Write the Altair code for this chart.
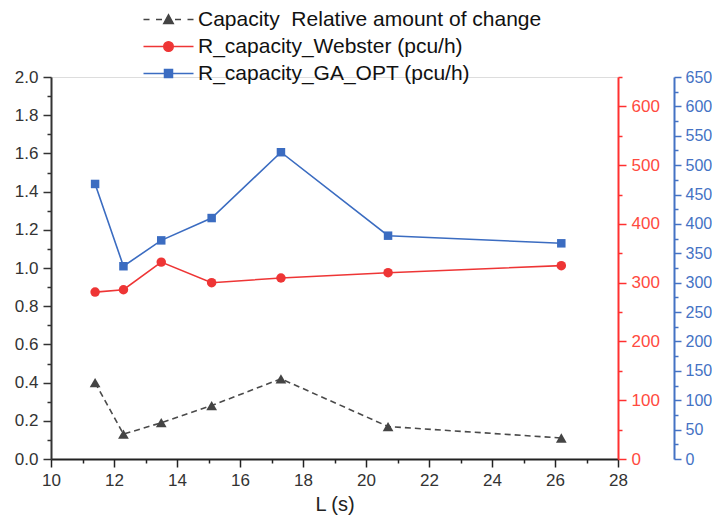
import altair as alt
import pandas as pd

# ---- data ----
L = [11.4, 12.3, 13.5, 15.1, 17.3, 20.7, 26.2]
change = [0.40, 0.13, 0.19, 0.28, 0.42, 0.17, 0.11]
webster = [284, 288, 335, 300, 308, 317, 329]
ga_opt = [468, 328, 372, 410, 522, 380, 367]

names = ["Capacity\u00a0 Relative amount of change",
         "R_capacity_Webster (pcu/h)",
         "R_capacity_GA_OPT (pcu/h)"]
colors = ["#444444", "#ee3535", "#3b6cc1"]

x_ticks = list(range(10, 29))
left_ticks = [round(i * 0.1, 1) for i in range(21)]
red_ticks = list(range(0, 651, 50))
blue_ticks = list(range(0, 651, 25))

df = pd.DataFrame({"L": L, "change": change, "webster": webster, "ga": ga_opt})

FONT = "Liberation Sans"


def make_axis(values, test, fmt, color, lcolor, orient, offset=0, title=None,
              fsize=17, major=8, pad=5):
    kw = dict(
        values=values, orient=orient, offset=offset,
        labelExpr=f"({test}) ? format(datum.value, '{fmt}') : ''",
        tickSize={"condition": {"test": test, "value": major}, "value": 4},
        labelOverlap=False, labelFlush=False, grid=False,
        domainColor=color, domainWidth=2, tickColor=color, tickWidth=1.5,
        labelColor=lcolor, labelFontSize=fsize, labelFont=FONT, labelPadding=pad,
    )
    if title is not None:
        kw.update(title=title, titleFontSize=20, titleFont=FONT,
                  titleFontWeight="normal", titleColor="#222222", titlePadding=6)
    else:
        kw.update(title=None)
    return alt.Axis(**kw)


x_axis = make_axis(x_ticks, "datum.value % 2 == 0", "d", "#222222", "#333333",
                   "bottom", title="L (s)")
left_axis = make_axis(left_ticks, "round(datum.value * 10) % 2 == 0", ".1f",
                      "#333333", "#333333", "left")
red_axis = make_axis(red_ticks, "datum.value % 100 == 0", "d", "#ff3030",
                     "#ff4a40", "right")
blue_axis = make_axis(blue_ticks, "datum.value % 50 == 0", "d", "#4472c4",
                      "#4472c4", "right", offset=56, fsize=16, major=7, pad=4)

x_enc = alt.X("L:Q", scale=alt.Scale(domain=[10, 28], nice=False, zero=False),
              axis=x_axis)

tri = "M-5,0L-3.8,0M-2.5,0L-1.3,0M1.3,0L2.5,0M3.8,0L5,0M-0.95,0.8L0,-0.95L0.95,0.8Z"
circ = "M-5,0L5,0M0.95,0A0.95,0.95,0,1,1,-0.95,0A0.95,0.95,0,1,1,0.95,0Z"
sq = "M-5,0L5,0M-0.8,-0.8L0.8,-0.8L0.8,0.8L-0.8,0.8Z"


def pick(a, b, c):
    return (f"indexof(datum.label, 'Webster') >= 0 ? '{b}' : "
            f"(indexof(datum.label, 'GA_OPT') >= 0 ? '{c}' : '{a}')")


legend = alt.Legend(
    title=None, orient="none", legendX=107, legendY=-68, padding=0,
    symbolSize=100, symbolStrokeWidth=1.5,
    symbolType=alt.ExprRef(expr=pick(tri, circ, sq)),
    symbolStrokeColor=alt.ExprRef(expr=pick(*colors)),
    labelFont=FONT, labelFontSize=21, labelColor="#111111",
    labelOffset=19, rowPadding=5, labelLimit=600,
)
color_scale = alt.Scale(domain=names, range=colors)


def series(field, name, color, shape, size, yscale, yaxis, dash=None):
    y = alt.Y(f"{field}:Q", scale=yscale, axis=yaxis)
    line_kw = dict(color=color, strokeWidth=1.6)
    if dash:
        line_kw["strokeDash"] = dash
    line = alt.Chart(df).mark_line(**line_kw).encode(x=x_enc, y=y)
    pts = (alt.Chart(df)
           .transform_calculate(series=f"'{name}'")
           .mark_point(filled=True, shape=shape, size=size, opacity=1)
           .encode(x=x_enc, y=y,
                   color=alt.Color("series:N", scale=color_scale, legend=legend)))
    return alt.layer(line, pts)


s1 = series("change", names[0], "#4a4a4a", "triangle-up", 115,
            alt.Scale(domain=[0, 2], nice=False, zero=True), left_axis, dash=[6, 4])
s2 = series("webster", names[1], "#ee3535", "circle", 90,
            alt.Scale(domain=[0, 650], nice=False, zero=True), red_axis)
s3 = series("ga", names[2], "#3b6cc1", "square", 72,
            alt.Scale(domain=[0, 650], nice=False, zero=True), blue_axis)

chart = (
    alt.layer(s1, s2, s3)
    .resolve_scale(y="independent")
    .properties(width=567, height=382, autosize="none",
                padding={"left": 43, "top": 69, "right": 94, "bottom": 58})
    .configure_view(stroke=None)
    .configure(font=FONT)
)

chart.save("out.html", embed_options={"renderer": "svg", "actions": False})
